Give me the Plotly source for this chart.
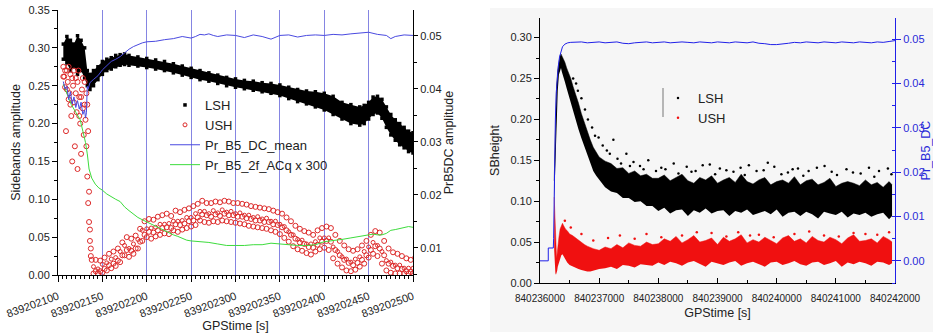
import plotly.graph_objects as go

FONT = "Arial, 'Liberation Sans', sans-serif"

# ---------------- LEFT PANEL DATA (GPS time = T0_L + offset) ----------------
T0_L = 839202000
lsh_t = [106, 110, 114, 118, 122, 126, 130, 133, 136, 140, 145, 150, 155, 160, 165, 170, 175, 180,
         190, 200, 210, 220, 230, 240, 250, 260, 270, 280, 290, 300, 310, 320, 330, 340, 350, 360,
         370, 380, 390, 400, 410, 420, 430, 440, 445, 450, 455, 460, 465, 470, 475, 480, 485, 490, 495, 500]
lsh_lo = [0.285, 0.280, 0.270, 0.275, 0.265, 0.270, 0.260, 0.250, 0.245, 0.250, 0.258, 0.265, 0.270, 0.272,
          0.275, 0.277, 0.278, 0.277, 0.276, 0.274, 0.272, 0.270, 0.267, 0.264, 0.261, 0.258, 0.256, 0.253,
          0.250, 0.248, 0.246, 0.244, 0.242, 0.240, 0.237, 0.233, 0.229, 0.226, 0.222, 0.218, 0.212, 0.206,
          0.200, 0.198, 0.200, 0.206, 0.212, 0.214, 0.207, 0.195, 0.185, 0.178, 0.172, 0.168, 0.163, 0.161]
lsh_hi = [0.305, 0.315, 0.310, 0.305, 0.316, 0.310, 0.300, 0.270, 0.265, 0.270, 0.275, 0.282, 0.285, 0.287,
          0.290, 0.291, 0.292, 0.290, 0.288, 0.286, 0.284, 0.282, 0.279, 0.276, 0.273, 0.270, 0.267, 0.264,
          0.261, 0.259, 0.257, 0.256, 0.254, 0.253, 0.251, 0.248, 0.245, 0.243, 0.242, 0.240, 0.236, 0.228,
          0.225, 0.222, 0.224, 0.228, 0.235, 0.236, 0.232, 0.222, 0.212, 0.205, 0.200, 0.195, 0.190, 0.188]

ush_t = list(range(140, 501, 5))
ush_lo = [0.002, 0.002, 0.003, 0.006, 0.009, 0.012, 0.017, 0.026, 0.024, 0.028,
          0.035, 0.045, 0.050, 0.048, 0.051, 0.053, 0.055, 0.054, 0.059, 0.057,
          0.060, 0.062, 0.064, 0.066, 0.072, 0.070, 0.069, 0.071, 0.070, 0.072,
          0.071, 0.070, 0.069, 0.068, 0.067, 0.065, 0.064, 0.063, 0.062, 0.061,
          0.059, 0.057, 0.054, 0.049, 0.044, 0.038, 0.034, 0.032, 0.029, 0.027,
          0.031, 0.034, 0.036, 0.033, 0.022, 0.015, 0.010, 0.006, 0.005, 0.007,
          0.011, 0.015, 0.023, 0.028, 0.025, 0.015, 0.006, 0.003, 0.002, 0.002,
          0.002, 0.002, 0.002]
ush_ml = [0.005, 0.005, 0.008, 0.013, 0.015, 0.019, 0.026, 0.033, 0.032, 0.035,
          0.044, 0.053, 0.057, 0.056, 0.059, 0.062, 0.063, 0.062, 0.067, 0.066,
          0.068, 0.071, 0.072, 0.076, 0.080, 0.079, 0.077, 0.080, 0.078, 0.081,
          0.079, 0.079, 0.077, 0.077, 0.075, 0.074, 0.072, 0.072, 0.070, 0.070,
          0.067, 0.066, 0.063, 0.059, 0.053, 0.048, 0.043, 0.041, 0.037, 0.036,
          0.040, 0.044, 0.045, 0.044, 0.033, 0.026, 0.020, 0.016, 0.013, 0.016,
          0.020, 0.026, 0.033, 0.038, 0.035, 0.026, 0.015, 0.012, 0.009, 0.008,
          0.005, 0.004, 0.005]
ush_mid = [0.011, 0.008, 0.014, 0.016, 0.021, 0.023, 0.031, 0.039, 0.035, 0.041,
           0.047, 0.059, 0.061, 0.062, 0.063, 0.067, 0.067, 0.068, 0.071, 0.071,
           0.072, 0.076, 0.076, 0.081, 0.084, 0.084, 0.081, 0.085, 0.082, 0.086,
           0.083, 0.084, 0.081, 0.082, 0.079, 0.079, 0.076, 0.077, 0.074, 0.075,
           0.071, 0.071, 0.067, 0.064, 0.057, 0.053, 0.047, 0.046, 0.041, 0.041,
           0.044, 0.049, 0.049, 0.049, 0.037, 0.031, 0.024, 0.021, 0.017, 0.021,
           0.024, 0.031, 0.037, 0.043, 0.039, 0.031, 0.019, 0.017, 0.013, 0.013,
           0.009, 0.009, 0.009]
ush_hi = [0.020, 0.019, 0.023, 0.028, 0.031, 0.035, 0.043, 0.050, 0.048, 0.052,
          0.061, 0.071, 0.074, 0.073, 0.077, 0.079, 0.081, 0.078, 0.085, 0.083,
          0.086, 0.088, 0.091, 0.094, 0.098, 0.095, 0.095, 0.097, 0.096, 0.098,
          0.097, 0.095, 0.095, 0.094, 0.093, 0.091, 0.090, 0.089, 0.088, 0.087,
          0.085, 0.083, 0.081, 0.076, 0.071, 0.065, 0.061, 0.058, 0.056, 0.053,
          0.059, 0.062, 0.064, 0.062, 0.053, 0.045, 0.039, 0.034, 0.032, 0.034,
          0.039, 0.045, 0.053, 0.058, 0.056, 0.045, 0.035, 0.030, 0.028, 0.025,
          0.022, 0.020, 0.023]
ush_early_t = [106, 107, 108, 109, 110, 111, 112, 113, 114, 115, 116, 117, 118, 119, 120, 121, 122, 123, 124,
               125, 126, 127, 128, 129, 130, 131, 132, 133, 133, 134, 134, 135, 135, 136, 136, 137, 137, 138,
               106, 108, 110, 112, 114, 116, 118, 120, 122, 124, 126, 128, 130, 132]
ush_early_v = [0.275, 0.262, 0.248, 0.190, 0.270, 0.255, 0.232, 0.240, 0.265, 0.210, 0.150, 0.250, 0.228,
               0.170, 0.260, 0.215, 0.140, 0.270, 0.235, 0.200, 0.160, 0.245, 0.220, 0.185, 0.255, 0.205,
               0.170, 0.225, 0.130, 0.190, 0.095, 0.110, 0.070, 0.060, 0.045, 0.035, 0.025, 0.020,
               0.262, 0.270, 0.245, 0.275, 0.225, 0.260, 0.270, 0.240, 0.255, 0.210, 0.235, 0.260, 0.225, 0.240]

green_t = [106, 110, 115, 120, 125, 128, 131, 133, 135, 138, 142, 146, 150, 155, 160, 165, 170, 175, 180,
           185, 190, 195, 200, 205, 210, 215, 220, 225, 230, 235, 240, 245, 250, 260, 270, 280, 290, 300,
           310, 320, 330, 340, 350, 360, 370, 380, 390, 400, 410, 420, 430, 440, 450, 455, 460, 465, 470,
           475, 480, 485, 490, 495, 500]
green_v = [0.252, 0.240, 0.225, 0.215, 0.205, 0.190, 0.175, 0.160, 0.140, 0.128, 0.120, 0.115, 0.112, 0.107,
           0.103, 0.100, 0.097, 0.090, 0.085, 0.080, 0.076, 0.073, 0.070, 0.067, 0.064, 0.061, 0.058, 0.055,
           0.053, 0.051, 0.048, 0.046, 0.045, 0.044, 0.043, 0.041, 0.039, 0.039, 0.039, 0.040, 0.040, 0.042,
           0.041, 0.040, 0.039, 0.039, 0.040, 0.044, 0.046, 0.047, 0.049, 0.051, 0.053, 0.054, 0.053, 0.053,
           0.055, 0.059, 0.060, 0.061, 0.063, 0.064, 0.063]

dcm_t = [106, 108, 110, 112, 114, 116, 118, 120, 122, 124, 126, 128, 130, 131, 132, 133, 134, 136, 140, 145,
         150, 155, 160, 165, 170, 175, 180, 185, 190, 195, 200, 210, 220, 230, 240, 250, 255, 260, 265, 270,
         275, 280, 290, 300, 310, 320, 330, 340, 350, 360, 370, 380, 390, 400, 410, 420, 430, 440, 450, 460,
         470, 475, 480, 490, 500]
dcm_v = [0.0414, 0.0400, 0.0405, 0.0380, 0.0395, 0.0372, 0.0385, 0.0365, 0.0378, 0.0362, 0.0375, 0.0352,
         0.0360, 0.0345, 0.0355, 0.0405, 0.0400, 0.0412, 0.0418, 0.0425, 0.0436, 0.0445, 0.0452, 0.0456,
         0.0461, 0.0468, 0.0475, 0.0480, 0.0484, 0.0487, 0.0489, 0.0490, 0.0493, 0.0495, 0.0499, 0.0496,
         0.0499, 0.0503, 0.0502, 0.0504, 0.0501, 0.0499, 0.0502, 0.0501, 0.0497, 0.0502, 0.0499, 0.0494,
         0.0501, 0.0502, 0.0498, 0.0501, 0.0502, 0.0501, 0.0503, 0.0502, 0.0504, 0.0506, 0.0507, 0.0503,
         0.0501, 0.0495, 0.0499, 0.0502, 0.0501]

# ---------------- RIGHT PANEL DATA (GPS time = T0_R + offset) ----------------
T0_R = 840236000
rl_t = [240, 260, 280, 300, 320, 340, 355, 370, 390, 420, 450, 480, 520, 560, 600, 650, 700, 750, 800, 850,
        900, 950, 1000] + list(range(1100, 6000, 100)) + [5950]
rl_lo = [0.100, 0.150, 0.200, 0.235, 0.255, 0.262, 0.263, 0.258, 0.252, 0.246, 0.238, 0.230, 0.220, 0.210,
         0.200, 0.188, 0.177, 0.167, 0.156, 0.147, 0.137, 0.131, 0.126,
         0.117, 0.112, 0.110, 0.104, 0.104, 0.099, 0.100, 0.094, 0.094,
         0.088, 0.092, 0.085, 0.089, 0.090, 0.082, 0.089, 0.086, 0.091, 0.085,
         0.088, 0.089, 0.082, 0.088, 0.086, 0.090, 0.083, 0.086, 0.088, 0.084,
         0.090, 0.081, 0.086, 0.087, 0.082, 0.087, 0.084, 0.079, 0.087, 0.085,
         0.083, 0.087, 0.080, 0.085, 0.083, 0.086, 0.081, 0.084, 0.086, 0.078,
         0.082]
rl_hi = [0.125, 0.200, 0.240, 0.260, 0.272, 0.278, 0.280, 0.278, 0.274, 0.270, 0.263, 0.258, 0.250, 0.240,
         0.232, 0.220, 0.207, 0.196, 0.184, 0.175, 0.166, 0.160, 0.154,
         0.149, 0.146, 0.140, 0.141, 0.134, 0.137, 0.131, 0.133, 0.128,
         0.128, 0.132, 0.125, 0.129, 0.133, 0.125, 0.122, 0.129, 0.126, 0.131,
         0.122, 0.126, 0.129, 0.123, 0.133, 0.124, 0.121, 0.126, 0.129, 0.120,
         0.124, 0.126, 0.122, 0.130, 0.120, 0.125, 0.127, 0.120, 0.123, 0.128,
         0.118, 0.122, 0.124, 0.122, 0.119, 0.126, 0.120, 0.123, 0.117, 0.124,
         0.120]
rl_out_t = [560, 610, 640, 700, 760, 810, 880, 930, 990, 1060,
            1130, 1180, 1240, 1310, 1370, 1460, 1520, 1580, 1690, 1750,
            1830, 1960, 2050, 2120, 2260, 2340, 2480, 2560, 2630, 2750,
            2870, 2960, 3040, 3150, 3270, 3390, 3460, 3530, 3660, 3780,
            3850, 3960, 4080, 4190, 4270, 4360, 4450, 4540, 4680, 4810,
            4930, 5020, 5180, 5290, 5420, 5560, 5650, 5730, 5880, 5940]
rl_out_v = [0.250, 0.244, 0.235, 0.226, 0.212, 0.200, 0.190, 0.180, 0.178, 0.168,
            0.162, 0.158, 0.175, 0.152, 0.146, 0.158, 0.143, 0.148, 0.143, 0.139,
            0.150, 0.137, 0.141, 0.139, 0.146, 0.134, 0.142, 0.136, 0.137, 0.144,
            0.145, 0.133, 0.140, 0.138, 0.136, 0.141, 0.132, 0.144, 0.137, 0.138,
            0.147, 0.142, 0.133, 0.135, 0.139, 0.140, 0.131, 0.137, 0.141, 0.143,
            0.136, 0.132, 0.139, 0.135, 0.134, 0.141, 0.130, 0.137, 0.140, 0.133]

ru_t = [240, 250, 260, 270, 280, 290, 300, 320, 340, 360, 380, 400, 430, 460, 500, 550, 600, 650, 700, 750,
        800, 850, 900, 950, 1000] + list(range(1100, 6000, 100)) + [5950]
ru_lo = [0.040, 0.020, 0.012, 0.010, 0.012, 0.015, 0.020, 0.025, 0.030, 0.034, 0.035, 0.032, 0.028, 0.025,
         0.022, 0.020, 0.018, 0.017, 0.016, 0.015, 0.014, 0.014, 0.015, 0.016, 0.017,
         0.018, 0.020, 0.017, 0.022, 0.021, 0.019, 0.023, 0.022, 0.021,
         0.025, 0.022, 0.026, 0.024, 0.021, 0.025, 0.027, 0.023, 0.020, 0.026,
         0.024, 0.022, 0.025, 0.027, 0.021, 0.024, 0.026, 0.023, 0.020, 0.025,
         0.026, 0.022, 0.024, 0.027, 0.023, 0.021, 0.025, 0.026, 0.022, 0.024,
         0.027, 0.020, 0.025, 0.023, 0.026, 0.024, 0.021, 0.026, 0.025, 0.022,
         0.024]
ru_hi = [0.105, 0.080, 0.050, 0.035, 0.030, 0.036, 0.046, 0.056, 0.066, 0.071, 0.073, 0.070, 0.066, 0.064,
         0.060, 0.058, 0.055, 0.052, 0.050, 0.047, 0.045, 0.043, 0.042, 0.041, 0.040,
         0.044, 0.042, 0.047, 0.043, 0.049, 0.046, 0.045, 0.050, 0.047,
         0.048, 0.054, 0.051, 0.057, 0.049, 0.053, 0.058, 0.050, 0.052, 0.055,
         0.047, 0.056, 0.051, 0.054, 0.059, 0.049, 0.053, 0.050, 0.056, 0.052,
         0.048, 0.055, 0.058, 0.051, 0.054, 0.049, 0.057, 0.052, 0.050, 0.056,
         0.053, 0.048, 0.055, 0.059, 0.051, 0.052, 0.054, 0.049, 0.057, 0.053,
         0.050]
ru_out_t = [420, 520, 700, 900, 1150, 1350, 1600, 1800, 2050, 2400, 2650, 2900, 3150, 3350, 3550, 3700,
            3950, 4300, 4550, 4800, 5050, 5300, 5500, 5700, 5900]
ru_out_v = [0.076, 0.068, 0.060, 0.052, 0.055, 0.058, 0.054, 0.060, 0.056, 0.058, 0.062, 0.061, 0.057,
            0.062, 0.058, 0.059, 0.056, 0.060, 0.063, 0.058, 0.057, 0.061, 0.060, 0.059, 0.062]

rb_t = [0, 140, 140, 225, 230, 242, 250, 260, 275, 290, 310, 330, 355, 380, 420, 470, 520] + list(range(600, 6001, 100))
rb_v = [0.0000, 0.0000, 0.0029, 0.0029, 0.0050, 0.0190, 0.0260, 0.0320, 0.0380, 0.0415, 0.0440, 0.0460,
        0.0475, 0.0483, 0.0489, 0.0492, 0.0493,
        0.0493, 0.0494, 0.0492, 0.0493, 0.0494, 0.0492, 0.0493, 0.0494, 0.0491, 0.0490, 0.0492,
        0.0493, 0.0494, 0.0492, 0.0493, 0.0494, 0.0492, 0.0493, 0.0494, 0.0493, 0.0492, 0.0494,
        0.0493, 0.0492, 0.0494, 0.0493, 0.0492, 0.0494, 0.0493, 0.0492, 0.0494, 0.0491, 0.0490,
        0.0488, 0.0488, 0.0489, 0.0491, 0.0493, 0.0492, 0.0494, 0.0493, 0.0492, 0.0494, 0.0493,
        0.0492, 0.0494, 0.0493, 0.0492, 0.0494, 0.0493, 0.0492, 0.0494, 0.0493, 0.0495, 0.0497]

for a, b in [(lsh_t, lsh_lo), (lsh_t, lsh_hi), (ush_t, ush_lo), (ush_t, ush_ml), (ush_t, ush_mid),
             (ush_t, ush_hi), (ush_early_t, ush_early_v), (green_t, green_v), (dcm_t, dcm_v),
             (rl_t, rl_lo), (rl_t, rl_hi), (rl_out_t, rl_out_v), (ru_t, ru_lo), (ru_t, ru_hi),
             (ru_out_t, ru_out_v), (rb_t, rb_v)]:
    assert len(a) == len(b), (len(a), len(b))


def X(t0, offs, shift=0.0):
    return [t0 + o + shift for o in offs]


fig = go.Figure()

# ---- left panel traces ----
fig.add_trace(go.Scatter(x=X(T0_L, lsh_t), y=lsh_lo, mode="lines", line=dict(width=0, color="black"),
                         showlegend=False, hoverinfo="skip", xaxis="x", yaxis="y"))
fig.add_trace(go.Scatter(x=X(T0_L, lsh_t), y=lsh_hi, mode="lines", line=dict(width=0, color="black"),
                         fill="tonexty", fillcolor="black", showlegend=False, hoverinfo="skip",
                         xaxis="x", yaxis="y"))
fig.add_trace(go.Scatter(x=X(T0_L, lsh_t), y=lsh_lo, mode="markers",
                         marker=dict(symbol="square", size=3.5, color="black"),
                         showlegend=False, xaxis="x", yaxis="y"))
fig.add_trace(go.Scatter(x=X(T0_L, lsh_t), y=lsh_hi, mode="markers", name="LSH",
                         marker=dict(symbol="square", size=3.5, color="black"),
                         legend="legend", xaxis="x", yaxis="y"))

red_l = "#dd2a2a"
circ = dict(symbol="circle-open", size=5, color=red_l, line=dict(width=1))
fig.add_trace(go.Scatter(x=X(T0_L, ush_t), y=ush_lo, mode="markers", marker=circ,
                         showlegend=False, xaxis="x", yaxis="y"))
fig.add_trace(go.Scatter(x=X(T0_L, ush_t, 2.5), y=ush_ml, mode="markers", marker=circ,
                         showlegend=False, xaxis="x", yaxis="y"))
fig.add_trace(go.Scatter(x=X(T0_L, ush_t, 2.5), y=ush_hi, mode="markers", marker=circ,
                         showlegend=False, xaxis="x", yaxis="y"))
fig.add_trace(go.Scatter(x=X(T0_L, ush_early_t), y=ush_early_v, mode="markers", marker=circ,
                         showlegend=False, xaxis="x", yaxis="y"))
fig.add_trace(go.Scatter(x=X(T0_L, ush_t), y=ush_mid, mode="markers", name="USH",
                         marker=dict(symbol="circle-open", size=4, color=red_l, line=dict(width=1)),
                         legend="legend", xaxis="x", yaxis="y"))

fig.add_trace(go.Scatter(x=X(T0_L, dcm_t), y=dcm_v, mode="lines", name="Pr_B5_DC_mean",
                         line=dict(color="#4a4ae0", width=1), legend="legend", xaxis="x", yaxis="y2"))
fig.add_trace(go.Scatter(x=X(T0_L, green_t), y=green_v, mode="lines", name="Pr_B5_2f_ACq x 300",
                         line=dict(color="#3ddc3d", width=1), legend="legend", xaxis="x", yaxis="y"))

# ---- right panel traces ----
fig.add_trace(go.Scatter(x=X(T0_R, rl_t), y=rl_lo, mode="lines", line=dict(width=0, color="black"),
                         showlegend=False, hoverinfo="skip", xaxis="x2", yaxis="y3"))
fig.add_trace(go.Scatter(x=X(T0_R, rl_t), y=rl_hi, mode="lines", line=dict(width=0.5, color="black"),
                         fill="tonexty", fillcolor="black", showlegend=False, hoverinfo="skip",
                         xaxis="x2", yaxis="y3"))
fig.add_trace(go.Scatter(x=X(T0_R, rl_out_t), y=rl_out_v, mode="markers", name="LSH",
                         marker=dict(size=2.5, color="black"), legend="legend2", xaxis="x2", yaxis="y3"))

red_r = "#f01010"
fig.add_trace(go.Scatter(x=X(T0_R, ru_t), y=ru_lo, mode="lines", line=dict(width=0, color=red_r),
                         showlegend=False, hoverinfo="skip", xaxis="x2", yaxis="y3"))
fig.add_trace(go.Scatter(x=X(T0_R, ru_t), y=ru_hi, mode="lines", line=dict(width=0.5, color=red_r),
                         fill="tonexty", fillcolor=red_r, showlegend=False, hoverinfo="skip",
                         xaxis="x2", yaxis="y3"))
fig.add_trace(go.Scatter(x=X(T0_R, ru_out_t), y=ru_out_v, mode="markers", name="USH",
                         marker=dict(size=2.5, color=red_r), legend="legend2", xaxis="x2", yaxis="y3"))

fig.add_trace(go.Scatter(x=X(T0_R, rb_t), y=rb_v, mode="lines", line=dict(color="#2020e8", width=1),
                         showlegend=False, xaxis="x2", yaxis="y4"))

# ---- layout ----
W, H = 933, 333
axis_common = dict(showline=True, linecolor="black", linewidth=1, zeroline=False, tickcolor="black",
                   automargin=False, tickfont=dict(size=11, color="#222"))

L_x0, L_x1, L_top, L_bot = 58, 413, 10, 275
R_x0, R_x1, R_top, R_bot = 540, 895, 18, 283

fig.update_layout(
    width=W, height=H, margin=dict(l=0, r=0, t=0, b=0, autoexpand=False),
    paper_bgcolor="white", plot_bgcolor="rgba(0,0,0,0)",
    font=dict(family=FONT, size=11, color="#222"),
    legend=dict(x=165 / W, y=(H - 90) / H, xanchor="left", yanchor="top", bgcolor="rgba(0,0,0,0)",
                font=dict(size=13, color="#222"), tracegroupgap=0, traceorder="normal"),
    legend2=dict(x=658 / W, y=(H - 83) / H, xanchor="left", yanchor="top", bgcolor="rgba(0,0,0,0)",
                 font=dict(size=13, color="#222"), tracegroupgap=0, traceorder="normal"),
    xaxis=dict(axis_common, domain=[L_x0 / W, L_x1 / W], anchor="y",
               range=[T0_L + 100, T0_L + 500], tick0=T0_L + 100, dtick=50, tickformat="d", tickangle=-20,
               ticks="outside", ticklen=6, showgrid=True, gridcolor="#8585e2", gridwidth=1,
               ticklabelstandoff=4,
               minor=dict(dtick=5, ticks="outside", ticklen=3, tickcolor="black", showgrid=False),
               title=dict(text="GPStime [s]", font=dict(size=12.5), standoff=4)),
    xaxis3=dict(overlaying="x", side="top", anchor="y", range=[T0_L + 100, T0_L + 500], automargin=False,
                tick0=T0_L + 100, dtick=50, ticks="inside", ticklen=5, tickcolor="black",
                showticklabels=False, showgrid=False, showline=True, linecolor="black", zeroline=False,
                minor=dict(dtick=5, ticks="inside", ticklen=3, tickcolor="black")),
    yaxis=dict(axis_common, domain=[(H - L_bot) / H, (H - L_top) / H], anchor="x",
               range=[0, 0.35], dtick=0.05, tickformat=".2f", ticks="outside", ticklen=5, showgrid=False,
               minor=dict(dtick=0.025, ticks="outside", ticklen=3, tickcolor="black"),
               title=dict(text="Sidebands amplitude", font=dict(size=12.5), standoff=5)),
    yaxis2=dict(axis_common, overlaying="y", side="right", anchor="x",
                range=[0.0049, 0.0549], tick0=0, dtick=0.01, tickformat=".2f", ticks="outside", ticklen=4,
                showgrid=False, minor=dict(dtick=0.005, ticks="outside", ticklen=3, tickcolor="black"),
                title=dict(text="PrB5DC amplitude", font=dict(size=12.5), standoff=3)),
    xaxis2=dict(axis_common, domain=[R_x0 / W, R_x1 / W], anchor="y3",
                range=[T0_R, T0_R + 6000], tick0=T0_R, dtick=1000, tickformat="d", tickangle=0,
                tickfont=dict(size=10, color="#222"), ticklabelstandoff=6,
                ticks="inside", ticklen=5, showgrid=False,
                minor=dict(dtick=500, ticks="inside", ticklen=3, tickcolor="black"),
                title=dict(text="GPStime [s]", font=dict(size=12.5), standoff=5)),
    xaxis4=dict(overlaying="x2", side="top", anchor="y3", range=[T0_R, T0_R + 6000], automargin=False,
                tick0=T0_R, dtick=1000, ticks="inside", ticklen=5, tickcolor="black",
                showticklabels=False, showgrid=False, showline=True, linecolor="black", zeroline=False,
                minor=dict(dtick=500, ticks="inside", ticklen=3, tickcolor="black")),
    yaxis3=dict(axis_common, domain=[(H - R_bot) / H, (H - R_top) / H], anchor="x2",
                range=[0, 0.324], dtick=0.05, tickformat=".2f", ticks="outside", ticklen=5, showgrid=False,
                minor=dict(dtick=0.025, ticks="outside", ticklen=3, tickcolor="black"),
                title=dict(text="SBheight", font=dict(size=12.5), standoff=8)),
    yaxis4=dict(overlaying="y3", side="right", anchor="x2", range=[-0.005, 0.0548], tick0=0, dtick=0.01,
                automargin=False, tickformat=".2f", ticks="outside", ticklen=5, tickcolor="#2020e8",
                showgrid=False, showline=True, linecolor="#2020e8", linewidth=1, zeroline=False,
                tickfont=dict(size=11, color="#2a2ad8"),
                minor=dict(dtick=0.005, ticks="inside", ticklen=3, tickcolor="#2020e8"),
                title=dict(text="Pr_B5_DC", font=dict(size=12.5, color="#2a2ad8"), standoff=17)),
    shapes=[
        dict(type="rect", xref="paper", yref="paper", x0=490 / W, x1=1.0, y0=1 / H, y1=(H - 8) / H,
             fillcolor="#f6f6f6", line=dict(width=0), layer="below"),
        dict(type="line", xref="paper", yref="paper", x0=663 / W, x1=663 / W, y0=(H - 117) / H,
             y1=(H - 88) / H, line=dict(color="#777777", width=1)),
    ],
)

fig.write_html("out.html")
